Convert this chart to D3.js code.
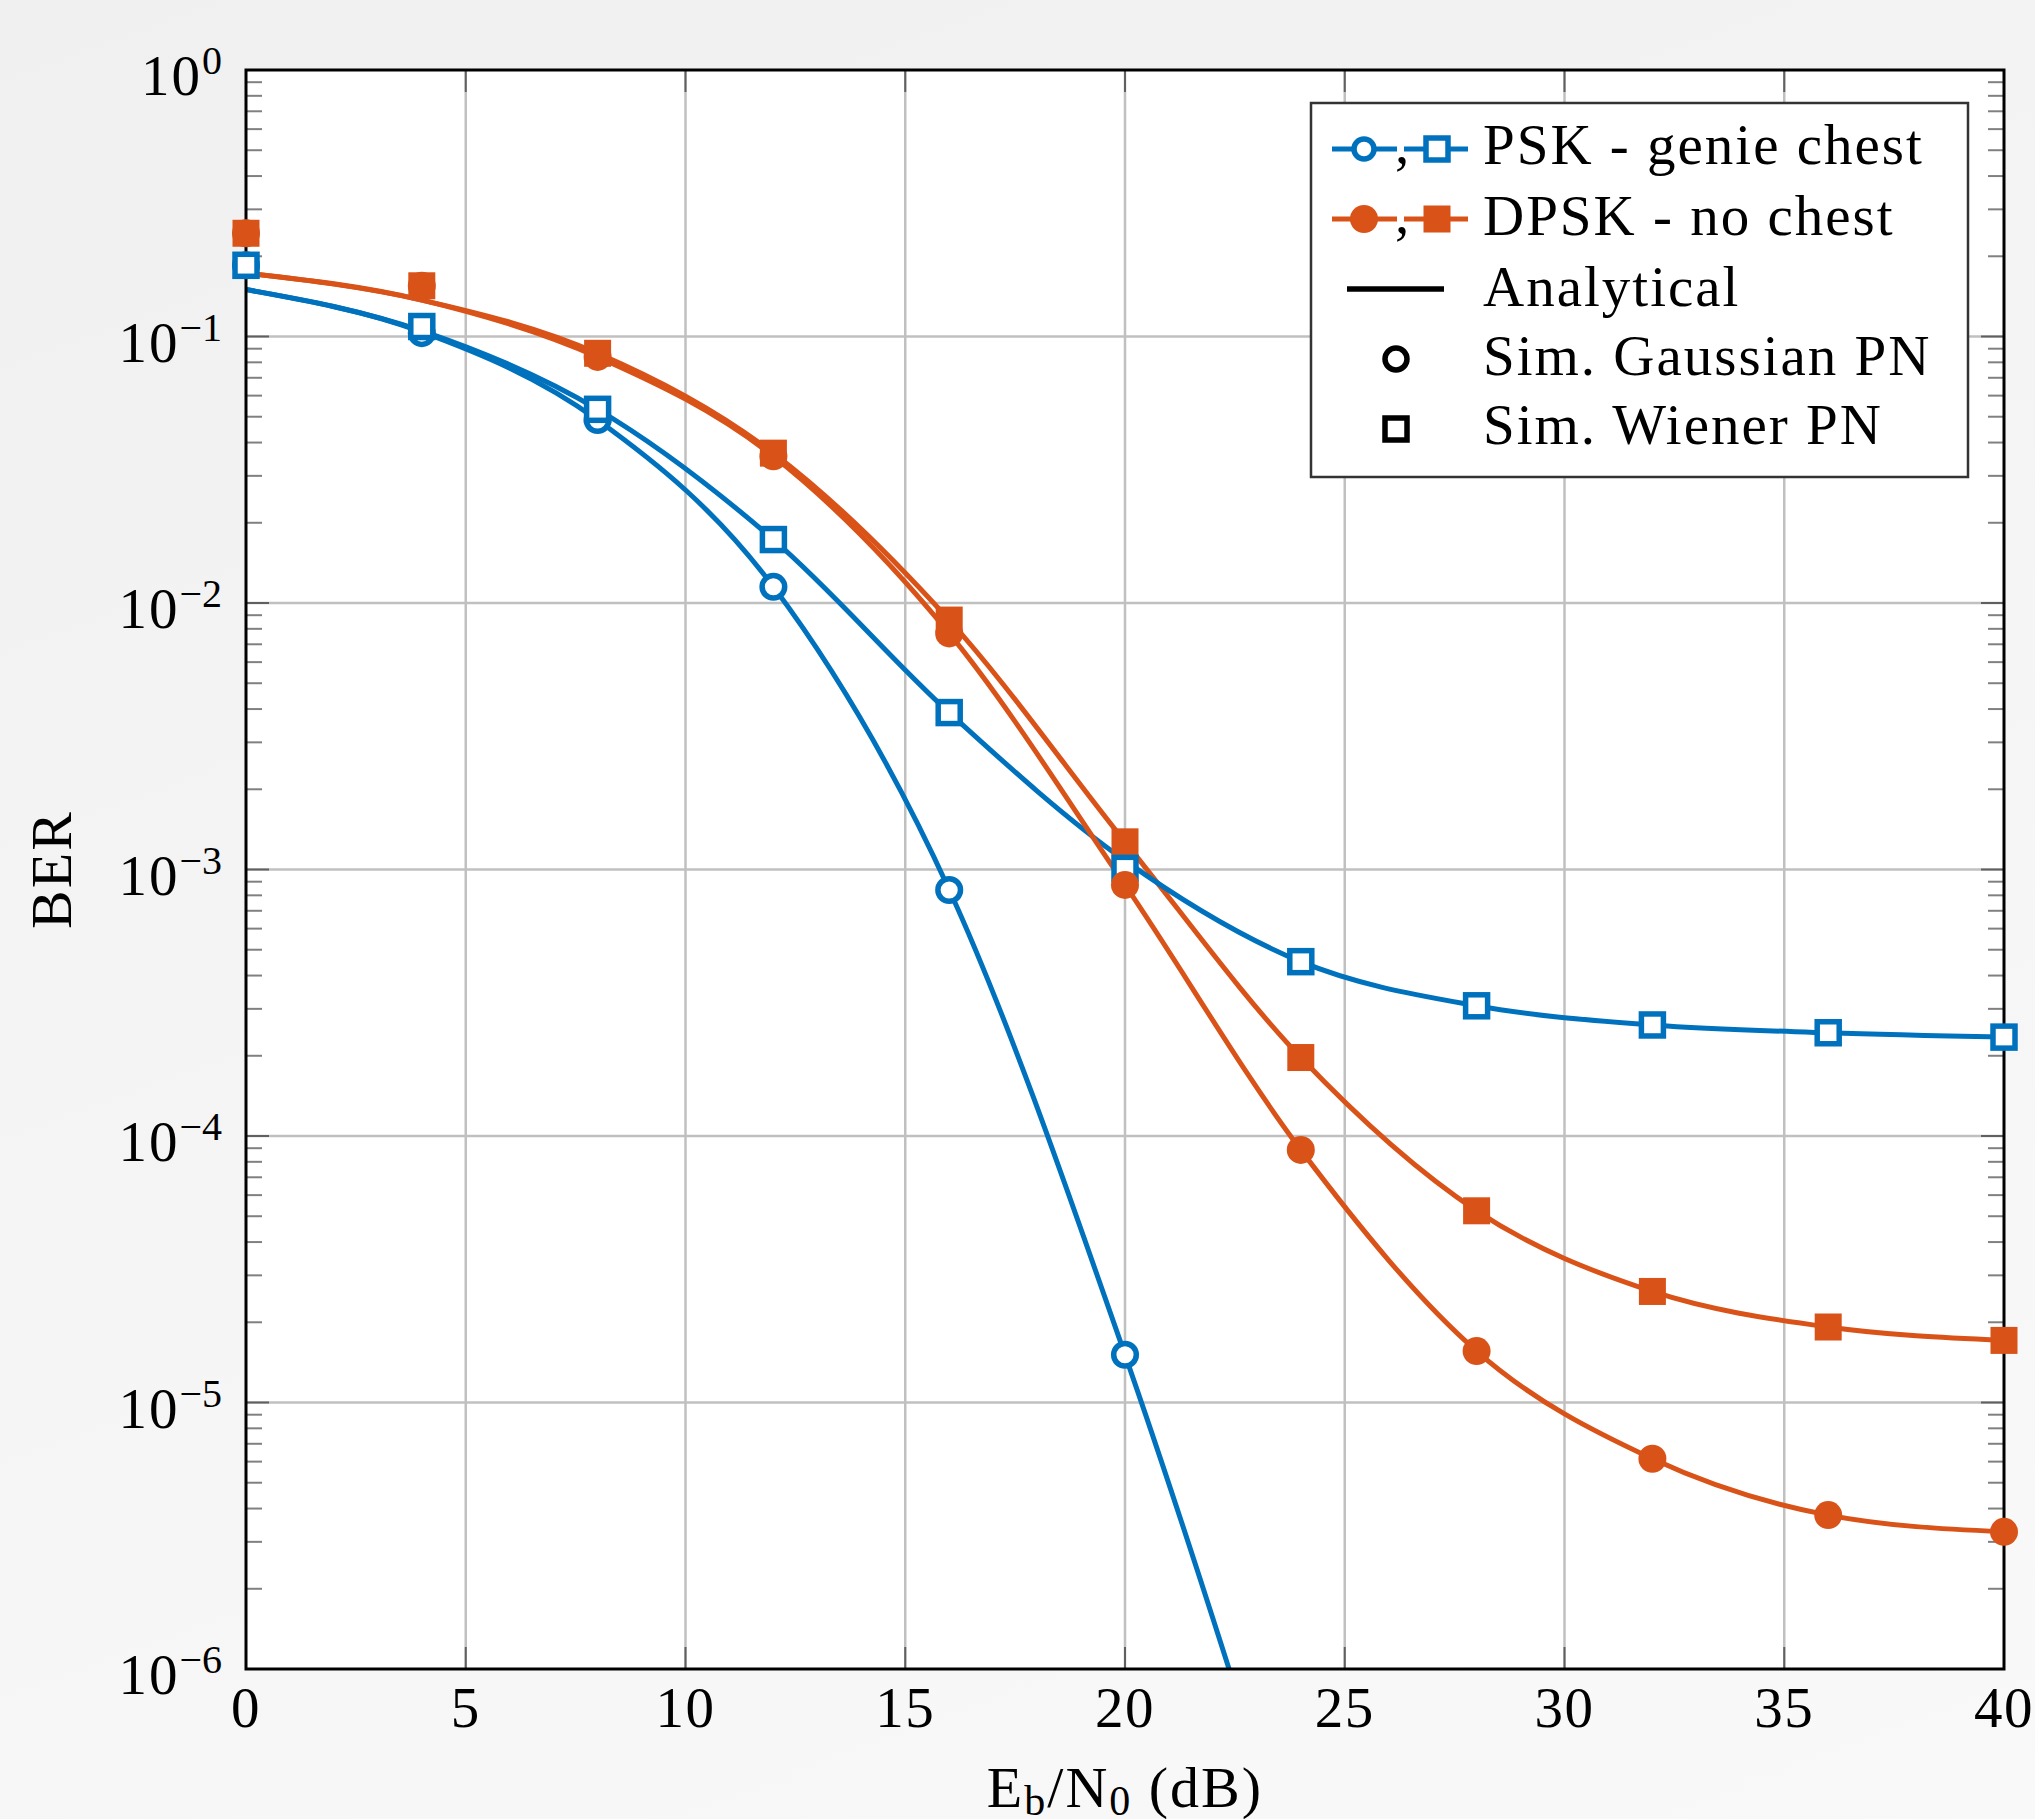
<!DOCTYPE html>
<html><head><meta charset="utf-8">
<script src="https://cdn.jsdelivr.net/npm/d3@7"></script>
<style>
html,body{margin:0;padding:0;}
body{width:2035px;height:1819px;background:linear-gradient(160deg,#f0f0f0 0%,#f5f5f5 50%,#f9f9f9 100%);overflow:hidden;}
svg{display:block;}
text{font-family:"Liberation Serif","Times New Roman",serif;fill:#000;}
</style></head><body><svg id="c" width="2035" height="1819"></svg>
<script>
// ---- data ----
const snr = [0, 4, 8, 12, 16, 20, 24, 28, 32, 36, 40];
const xTicks = [0, 5, 10, 15, 20, 25, 30, 35, 40];
const yDecades = [0, -1, -2, -3, -4, -5, -6];

const pskGaussSim   = [0.185, 0.103, 0.0486, 0.0115, 8.38e-4, 1.51e-5];
const pskWienerSim  = [0.185, 0.109, 0.0533, 0.0173, 3.88e-3, 1.01e-3, 4.51e-4, 3.08e-4, 2.61e-4, 2.44e-4, 2.35e-4];
const dpskGaussSim  = [0.244, 0.155, 0.0838, 0.0355, 7.69e-3, 8.75e-4, 8.87e-5, 1.56e-5, 6.15e-6, 3.78e-6, 3.27e-6];
const dpskWienerSim = [0.244, 0.155, 0.0865, 0.0365, 8.63e-3, 1.27e-3, 1.97e-4, 5.24e-5, 2.61e-5, 1.92e-5, 1.71e-5];

const pskGaussAna   = [0.150, 0.104, 0.0486, 0.0115, 8.4e-4, 1.51e-5, 1.4e-7];
const pskWienerAna  = [0.150, 0.105, 0.0533, 0.0173, 3.88e-3, 1.08e-3, 4.51e-4, 3.08e-4, 2.61e-4, 2.44e-4, 2.35e-4];
const dpskGaussAna  = [0.173, 0.137, 0.0838, 0.0355, 7.69e-3, 8.75e-4, 8.87e-5, 1.56e-5, 6.15e-6, 3.78e-6, 3.27e-6];
const dpskWienerAna = [0.173, 0.137, 0.0865, 0.0365, 8.63e-3, 1.27e-3, 1.97e-4, 5.24e-5, 2.61e-5, 1.92e-5, 1.71e-5];

const legendLabels = ["PSK - genie chest", "DPSK - no chest", "Analytical", "Sim. Gaussian PN", "Sim. Wiener PN"];

const BLUE = "#0072BD", ORANGE = "#D95319";

// ---- layout ----
const L = 246, R = 2004, T = 70, B = 1669;
const LW = 5;
const svg = d3.select("#c");
const x = d3.scaleLinear().domain([0, 40]).range([L, R]);
const y = d3.scaleLog().domain([1e-6, 1]).range([B, T]);

svg.append("defs").append("clipPath").attr("id", "clip")
  .append("rect").attr("x", L).attr("y", T).attr("width", R - L).attr("height", B - T);

svg.append("rect").attr("x", L).attr("y", T).attr("width", R - L).attr("height", B - T).attr("fill", "#fff");

// grid
const grid = svg.append("g");
grid.selectAll("line.v").data(xTicks.slice(1, -1)).join("line")
  .attr("x1", d => x(d)).attr("x2", d => x(d)).attr("y1", T).attr("y2", B)
  .attr("stroke", "#c0c0c0").attr("stroke-width", 2.5);
grid.selectAll("line.h").data(yDecades.slice(1, -1)).join("line")
  .attr("y1", d => y(Math.pow(10, d))).attr("y2", d => y(Math.pow(10, d))).attr("x1", L).attr("x2", R)
  .attr("stroke", "#c0c0c0").attr("stroke-width", 2.5);

// ticks (inside)
const minor = [];
for (let e = -6; e < 0; e++) for (let m = 2; m <= 9; m++) minor.push(m * Math.pow(10, e));
const tk = svg.append("g");
[[L, 1], [R, -1]].forEach(([x0, s]) => {
  tk.selectAll(null).data(minor).join("line")
    .attr("x1", x0).attr("x2", x0 + s * 16).attr("y1", d => y(d)).attr("y2", d => y(d))
    .attr("stroke", "#808080").attr("stroke-width", 2);
  tk.selectAll(null).data(yDecades).join("line")
    .attr("x1", x0).attr("x2", x0 + s * 23).attr("y1", d => y(Math.pow(10, d))).attr("y2", d => y(Math.pow(10, d)))
    .attr("stroke", "#606060").attr("stroke-width", 2);
});
[[B, -1], [T, 1]].forEach(([y0, s]) => {
  tk.selectAll(null).data(xTicks).join("line")
    .attr("y1", y0).attr("y2", y0 + s * 22).attr("x1", d => x(d)).attr("x2", d => x(d))
    .attr("stroke", "#606060").attr("stroke-width", 2);
});

// analytical lines
const line = d3.line().x(d => x(d[0])).y(d => y(d[1])).curve(d3.curveMonotoneX);
const lines = svg.append("g").attr("clip-path", "url(#clip)");
[[dpskWienerAna, ORANGE], [pskGaussAna, BLUE], [pskWienerAna, BLUE], [dpskGaussAna, ORANGE]].forEach(([vals, c]) => {
  lines.append("path").datum(vals.map((v, i) => [snr[i], v]))
    .attr("d", line).attr("fill", "none").attr("stroke", c).attr("stroke-width", LW);
});

// frame
svg.append("rect").attr("x", L).attr("y", T).attr("width", R - L).attr("height", B - T)
  .attr("fill", "none").attr("stroke", "#000").attr("stroke-width", 3);

// markers
const mk = svg.append("g");
function squares(vals, c, filled) {
  mk.selectAll(null).data(vals.map((v, i) => [snr[i], v]).filter(d => d[1] >= 1e-6)).join("rect")
    .attr("x", d => x(d[0]) - (filled ? 13.5 : 11)).attr("y", d => y(d[1]) - (filled ? 13.5 : 11))
    .attr("width", filled ? 27 : 22).attr("height", filled ? 27 : 22)
    .attr("fill", filled ? c : "#fff").attr("stroke", filled ? "none" : c).attr("stroke-width", 5.5);
}
function circles(vals, c, filled) {
  mk.selectAll(null).data(vals.map((v, i) => [snr[i], v]).filter(d => d[1] >= 1e-6)).join("circle")
    .attr("cx", d => x(d[0])).attr("cy", d => y(d[1])).attr("r", filled ? 14 : 11.3)
    .attr("fill", filled ? c : "#fff").attr("stroke", filled ? "none" : c).attr("stroke-width", 5.5);
}
squares(dpskWienerSim, ORANGE, true);
circles(pskGaussSim, BLUE, false);
squares(pskWienerSim, BLUE, false);
circles(dpskGaussSim, ORANGE, true);

// y tick labels
const yl = svg.append("g");
yDecades.forEach(k => {
  const t = yl.append("text").attr("x", 222).attr("y", y(Math.pow(10, k)) + 25)
    .attr("text-anchor", "end").attr("font-size", 57).attr("letter-spacing", 2);
  t.append("tspan").text("10");
  t.append("tspan").attr("dy", -21).attr("font-size", 40).attr("letter-spacing", 0).text(k === 0 ? "0" : "\u2212" + (-k));
});
// x tick labels
svg.append("g").selectAll("text").data(xTicks).join("text")
  .attr("x", d => x(d)).attr("y", 1727).attr("text-anchor", "middle").attr("font-size", 57)
  .attr("letter-spacing", 1.5).text(d => d);

// axis labels
const xlab = svg.append("text").attr("x", x(20)).attr("y", 1807).attr("text-anchor", "middle")
  .attr("font-size", 58).attr("letter-spacing", 2);
xlab.append("tspan").text("E");
xlab.append("tspan").attr("font-size", 42).attr("dy", 8).text("b");
xlab.append("tspan").attr("dy", -8).text("/N");
xlab.append("tspan").attr("font-size", 42).attr("dy", 8).text("0");
xlab.append("tspan").attr("dy", -8).text(" (dB)");

svg.append("text").attr("transform", `translate(71,${(T + B) / 2}) rotate(-90)`)
  .attr("text-anchor", "middle").attr("font-size", 58).attr("letter-spacing", 2).text("BER");

// legend
const lg = svg.append("g");
lg.append("rect").attr("x", 1311).attr("y", 103).attr("width", 657).attr("height", 374)
  .attr("fill", "#fff").attr("stroke", "#333").attr("stroke-width", 2.5);
const rowsY = [149, 219, 289, 359, 429];
const baseY = [164, 235, 306, 375, 444];
legendLabels.forEach((s, i) => {
  lg.append("text").attr("x", 1483).attr("y", baseY[i]).attr("font-size", 57)
    .attr("letter-spacing", 2).text(s);
});
[[BLUE, false], [ORANGE, true]].forEach(([c, filled], i) => {
  const cy = rowsY[i];
  lg.append("line").attr("x1", 1332).attr("x2", 1397).attr("y1", cy).attr("y2", cy).attr("stroke", c).attr("stroke-width", LW);
  lg.append("line").attr("x1", 1404).attr("x2", 1468).attr("y1", cy).attr("y2", cy).attr("stroke", c).attr("stroke-width", LW);
  lg.append("circle").attr("cx", 1364).attr("cy", cy).attr("r", filled ? 14 : 10)
    .attr("fill", filled ? c : "#fff").attr("stroke", filled ? "none" : c).attr("stroke-width", 5.5);
  if (filled) lg.append("rect").attr("x", 1437 - 13.5).attr("y", cy - 13.5).attr("width", 27).attr("height", 27).attr("fill", c);
  else lg.append("rect").attr("x", 1437 - 11).attr("y", cy - 11).attr("width", 22).attr("height", 22)
    .attr("fill", "#fff").attr("stroke", c).attr("stroke-width", 5.5);
  lg.append("text").attr("x", 1402).attr("y", cy + 14).attr("text-anchor", "middle").attr("font-size", 57).text(",");
});
lg.append("line").attr("x1", 1347).attr("x2", 1444).attr("y1", rowsY[2]).attr("y2", rowsY[2]).attr("stroke", "#000").attr("stroke-width", 5.5);
lg.append("circle").attr("cx", 1396).attr("cy", rowsY[3]).attr("r", 11).attr("fill", "#fff").attr("stroke", "#000").attr("stroke-width", 5.5);
lg.append("rect").attr("x", 1396 - 11).attr("y", rowsY[4] - 11).attr("width", 22).attr("height", 22)
  .attr("fill", "#fff").attr("stroke", "#000").attr("stroke-width", 5.5);
</script></body></html>
